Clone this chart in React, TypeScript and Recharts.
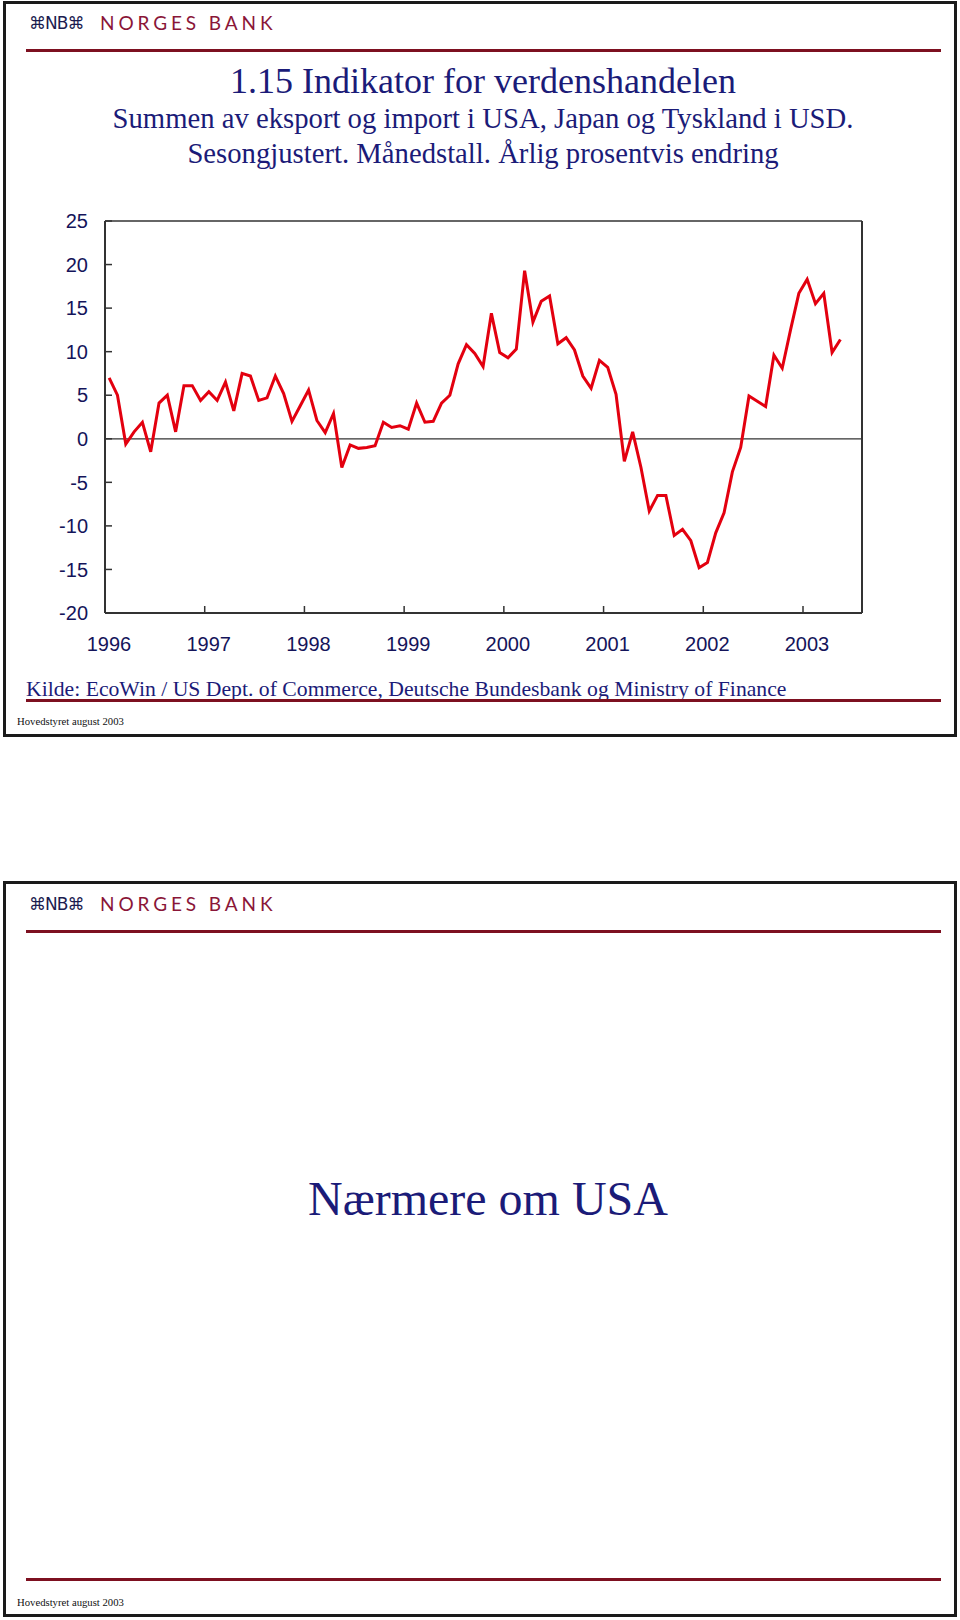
import React from 'react';
import { LineChart, Line, XAxis, YAxis, ReferenceLine } from 'recharts';

// ---- Data (monthly, Jan 1996 – May 2003), annual % change ----
const tradeValues: number[] = [
  7.0, 5.0, -0.6, 0.8, 1.9, -1.5, 4.1, 5.0, 0.8, 6.1, 6.1, 4.4,
  5.4, 4.4, 6.5, 3.2, 7.5, 7.2, 4.4, 4.7, 7.2, 5.2, 2.0, 3.8,
  5.6, 2.1, 0.7, 2.9, -3.3, -0.7, -1.1, -1.0, -0.8, 1.9, 1.3, 1.5,
  1.1, 4.1, 1.9, 2.0, 4.1, 5.0, 8.6, 10.8, 9.8, 8.3, 14.4, 9.9,
  9.3, 10.3, 19.3, 13.4, 15.8, 16.4, 10.9, 11.6, 10.2, 7.2, 5.8, 9.0,
  8.2, 5.1, -2.6, 0.8, -3.3, -8.3, -6.5, -6.5, -11.1, -10.4, -11.7, -14.8,
  -14.2, -10.8, -8.5, -3.8, -1.0, 4.9, 4.3, 3.7, 9.6, 8.1, 12.5, 16.7,
  18.3, 15.5, 16.7, 9.9, 11.4,
];
const yearLabels: string[] = ['1996', '1997', '1998', '1999', '2000', '2001', '2002', '2003'];
const yearTickMonths: number[] = [0, 12, 24, 36, 48, 60, 72, 84];
const yTicks: number[] = [-20, -15, -10, -5, 0, 5, 10, 15, 20, 25];
const xDomainMonths: [number, number] = [0, 91.1];

const titleText = '1.15 Indikator for verdenshandelen';
const subtitleLine1 = 'Summen av eksport og import i USA, Japan og Tyskland i USD.';
const subtitleLine2 = 'Sesongjustert. Månedstall. Årlig prosentvis endring';
const sourceText = 'Kilde: EcoWin / US Dept. of Commerce, Deutsche Bundesbank og Ministry of Finance';
const footerText = 'Hovedstyret august 2003';
const nextSlideTitle = 'Nærmere om USA';

const chartData = tradeValues.map((v, i) => ({ m: i + 0.5, v }));

const NAVY = '#1b1b78';
const TICK_NAVY = '#14145a';
const MAROON = '#7d1020';
const AXIS = '#333333';
const SERIF = "'Liberation Serif', 'Times New Roman', serif";
const SANS = "'Liberation Sans', Arial, sans-serif";

const LeftTick = (props: any) => {
  const { x, y, payload } = props;
  return (
    <g>
      <line x1={x} y1={y} x2={x + 7} y2={y} stroke={AXIS} strokeWidth={1.5} />
      <text x={x - 17} y={y} dy="0.36em" textAnchor="end" fontSize={20} fill={TICK_NAVY} fontFamily={SANS}>
        {payload.value}
      </text>
    </g>
  );
};

const RightTick = (props: any) => {
  const { x, y, payload } = props;
  return (
    <g>
      <line x1={x} y1={y} x2={x - 7} y2={y} stroke={AXIS} strokeWidth={1.5} />
      <text x={x + 16} y={y} dy="0.36em" textAnchor="start" fontSize={20} fill={TICK_NAVY} fontFamily={SANS}>
        {payload.value}
      </text>
    </g>
  );
};

const BottomTick = (props: any) => {
  const { x, y, payload } = props;
  const idx = yearTickMonths.indexOf(payload.value);
  return (
    <g>
      <line x1={x} y1={y} x2={x} y2={y - 7} stroke={AXIS} strokeWidth={1.5} />
      <text x={x + 4} y={y + 38} textAnchor="middle" fontSize={20} fill={TICK_NAVY} fontFamily={SANS}>
        {idx >= 0 ? yearLabels[idx] : ''}
      </text>
    </g>
  );
};

const Logo = ({ top }: { top: number }) => (
  <>
    <div
      style={{
        position: 'absolute', left: 29, top: top - 11, height: 22, lineHeight: '22px',
        fontFamily: "'DejaVu Sans', sans-serif", fontSize: 17, color: '#1c1c50', letterSpacing: -1,
        whiteSpace: 'nowrap',
      }}
    >
      ⌘NB⌘
    </div>
    <div
      style={{
        position: 'absolute', left: 100, top: top - 11, height: 22, lineHeight: '22px',
        fontFamily: "Lato, 'Liberation Sans', sans-serif", fontSize: 19, color: '#8a1638',
        letterSpacing: 3.9, whiteSpace: 'nowrap',
      }}
    >
      NORGES BANK
    </div>
  </>
);

const RedLine = ({ top }: { top: number }) => (
  <div style={{ position: 'absolute', left: 26, top: top - 1.5, width: 915, height: 3, background: MAROON }} />
);

const Footer = ({ center }: { center: number }) => (
  <div
    style={{
      position: 'absolute', left: 17, top: center - 6, height: 12, lineHeight: '12px',
      fontFamily: SERIF, fontSize: 10.7, color: '#111', whiteSpace: 'nowrap',
    }}
  >
    {footerText}
  </div>
);

const Frame = ({ top }: { top: number }) => (
  <div
    style={{
      position: 'absolute', left: 3, top, width: 954, height: 736, boxSizing: 'border-box',
      border: '3px solid #1a1a1a',
    }}
  />
);

const CenterText = ({ center, size, text, cx = 483 }: { center: number; size: number; text: string; cx?: number }) => (
  <div
    style={{
      position: 'absolute', left: cx - 480, width: 960, top: center - size / 2, height: size,
      lineHeight: `${size}px`, textAlign: 'center', fontFamily: SERIF, fontSize: size, color: NAVY,
      whiteSpace: 'nowrap',
    }}
  >
    {text}
  </div>
);

export default function App() {
  return (
    <div style={{ position: 'absolute', left: 0, top: 0, width: 960, height: 1620, background: '#fff', overflow: 'hidden' }}>
      {/* Slide 1 */}
      <Frame top={1} />
      <div style={{ position: 'absolute', left: 0, top: 0 }}>
        <LineChart
          width={960}
          height={660}
          data={chartData}
          margin={{ top: 221, right: 0, bottom: 0, left: 0 }}
        >
          <XAxis
            dataKey="m"
            type="number"
            domain={xDomainMonths}
            ticks={yearTickMonths}
            interval={0}
            allowDataOverflow
            height={47}
            tickSize={0}
            tickMargin={0}
            tickLine={false}
            tick={<BottomTick />}
            axisLine={{ stroke: AXIS, strokeWidth: 2 }}
          />
          <YAxis
            yAxisId="left"
            domain={[-20, 25]}
            ticks={yTicks}
            interval={0}
            width={105}
            tickSize={0}
            tickMargin={0}
            tickLine={false}
            tick={<LeftTick />}
            axisLine={{ stroke: AXIS, strokeWidth: 2 }}
          />
          <YAxis
            yAxisId="right"
            orientation="right"
            domain={[-20, 25]}
            ticks={yTicks}
            interval={0}
            width={98}
            tickSize={0}
            tickMargin={0}
            tickLine={false}
            tick={<RightTick />}
            axisLine={{ stroke: AXIS, strokeWidth: 2 }}
          />
          <ReferenceLine yAxisId="left" y={25} stroke={AXIS} strokeWidth={1.5} />
          <ReferenceLine yAxisId="left" y={0} stroke={AXIS} strokeWidth={1.2} />
          <Line
            yAxisId="left"
            type="linear"
            dataKey="v"
            stroke="#e3000f"
            strokeWidth={3}
            dot={false}
            activeDot={false}
            isAnimationActive={false}
            strokeLinejoin="miter"
          />
        </LineChart>
      </div>
      <Logo top={23} />
      <RedLine top={50} />
      <CenterText center={80.6} size={36} text={titleText} />
      <CenterText center={118} size={28.7} text={subtitleLine1} />
      <CenterText center={153} size={28.7} text={subtitleLine2} />
      <div
        style={{
          position: 'absolute', left: 26, top: 689 - 11, height: 22, lineHeight: '22px',
          fontFamily: SERIF, fontSize: 21.7, color: NAVY, whiteSpace: 'nowrap',
        }}
      >
        {sourceText}
      </div>
      <RedLine top={700} />
      <Footer center={721} />

      {/* Slide 2 */}
      <Frame top={881} />
      <Logo top={904} />
      <RedLine top={931} />
      <CenterText center={1199} size={48} text={nextSlideTitle} cx={488} />
      <RedLine top={1579} />
      <Footer center={1602} />
    </div>
  );
}
